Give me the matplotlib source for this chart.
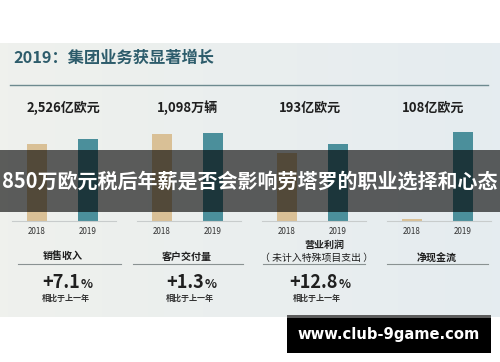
import numpy as np
import matplotlib
matplotlib.use('Agg')
import matplotlib.pyplot as plt
from matplotlib.patches import Rectangle

plt.rcParams['font.family'] = ['Noto Sans CJK SC', 'DejaVu Sans']

# data
years = ['2018', '2019']
revenue = [2359, 2526]      # 亿欧元
deliveries = [1083, 1098]   # 万辆
op_profit = [171, 193]      # 亿欧元
net_cash = [3, 108]         # 亿欧元
groups = [revenue, deliveries, op_profit, net_cash]
headlines = ['2,526亿欧元', '1,098万辆', '193亿欧元', '108亿欧元']
names = ['销售收入', '客户交付量', '营业利润', '净现金流']
growth = ['+7.1', '+1.3', '+12.8']
title = '2019：集团业务获显著增长'
banner = '850万欧元税后年薪是否会影响劳塔罗的职业选择和心态'
site = 'www.club-9game.com'

W, H = 500, 362
tan, teal = '#d9c096', '#4b8f9b'
dark = '#1f1f1f'

fig = plt.figure(figsize=(5, 3.62), dpi=100)

# background layer, pixel coords
ax_bg = fig.add_axes([0, 0, 1, 1], zorder=0)
ax_bg.set_xlim(0, W)
ax_bg.set_ylim(H, 0)
ax_bg.axis('off')
c0 = np.array([239, 241, 237]) / 255
c1 = np.array([229, 236, 240]) / 255
t = np.linspace(0, 1, 64)[None, :, None]
grad = c0 + (c1 - c0) * t
ax_bg.imshow(grad, extent=(0, W, 317, 43), aspect='auto', zorder=0)

ax_bg.text(13, 58, title, ha='left', va='center', fontsize=11.7,
           fontweight='bold', color='#2d5c6b')
ax_bg.plot([10, 488], [85, 85], color='#6d8a8f', lw=1)

for cx, s in zip([63, 187, 310, 433], headlines):
    ax_bg.text(cx, 108, s, ha='center', va='center', fontsize=9.4,
               fontweight='bold', color=dark)

# bar groups, each on its own scale
headroom = [1.11, 1.034, 1.18, 1.022]
for i, vals in enumerate(groups):
    left = 12 + 125 * i
    ax = fig.add_axes([left / W, 1 - 221 / H, 104 / W, 91 / H], zorder=1)
    ax.set_facecolor('none')
    ax.bar([0, 1], vals, width=0.39, color=[tan, teal])
    ax.set_xlim(-0.49, 1.55)
    ax.set_ylim(0, max(vals) * headroom[i])
    for sp in ['top', 'left', 'right']:
        ax.spines[sp].set_visible(False)
    ax.spines['bottom'].set_color('#c8cccc')
    ax.spines['bottom'].set_linewidth(0.8)
    ax.set_yticks([])
    ax.set_xticks([0, 1], years)
    ax.tick_params(axis='x', length=0, pad=4, labelsize=5.8, labelcolor='#333333')

# lower metric block
name_xy = [(63, 256), (187, 257), (324, 245), (437, 258)]
for (x, y), s in zip(name_xy, names):
    ax_bg.text(x, y, s, ha='center', va='center', fontsize=7.2,
               fontweight='bold', color=dark)
ax_bg.text(317, 258, '（ 未计入特殊项目支出 ）', ha='center', va='center',
           fontsize=7.1, color=dark)
for x0, x1 in [(18, 121), (133, 243), (263, 365), (387, 488)]:
    ax_bg.plot([x0, x1], [263.5, 263.5], color='#8a9292', lw=0.8)

for xe, s, xs in zip([80, 204, 338], growth, [66, 190, 317]):
    ax_bg.text(xe, 282, s, ha='right', va='center', fontsize=13,
               fontweight='bold', color=dark)
    ax_bg.text(xe + 0.5, 284, '%', ha='left', va='center', fontsize=9,
               fontweight='bold', color=dark)
    ax_bg.text(xs, 298, '相比于上一年', ha='center', va='center', fontsize=5.8,
               fontweight='bold', color='#333333')

# overlay layer: banner + watermark
ax_top = fig.add_axes([0, 0, 1, 1], zorder=3)
ax_top.set_xlim(0, W)
ax_top.set_ylim(H, 0)
ax_top.axis('off')
ax_top.add_patch(Rectangle((0, 150), W, 62, color='black', alpha=0.62, lw=0))
ax_top.text(W / 2, 181, banner, ha='center', va='center', fontsize=14.4,
            fontweight='bold', color='white')
ax_top.add_patch(Rectangle((287, 315), 204, 38, color='black', lw=0))
ax_top.add_patch(Rectangle((287, 315), 204, 3, color='#5c5c5c', lw=0))
ax_top.text(389, 335, site, ha='center', va='center', fontsize=10.6,
            fontweight='bold', color='white', family='DejaVu Sans')

fig.savefig('out.png', dpi=100)
